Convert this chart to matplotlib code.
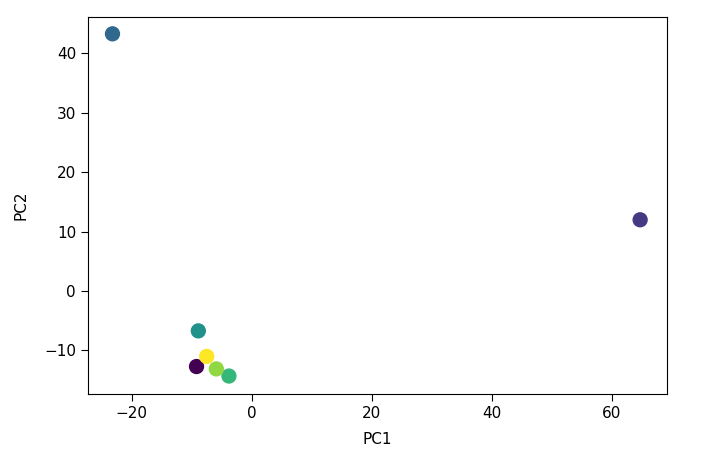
import numpy as np
import matplotlib.pyplot as plt

# PCA projection of the samples
pc1 = [-9.2, 64.7, -23.2, -8.9, -3.8, -5.9, -7.5]
pc2 = [-12.7, 12.0, 43.3, -6.7, -14.3, -13.1, -11.0]
labels = [0, 1, 2, 3, 4, 5, 6]

fig = plt.figure(figsize=(7.03, 4.65), dpi=100)
ax = fig.add_axes([0.125, 0.153, 0.824, 0.810])
ax.scatter(pc1, pc2, c=labels, cmap='viridis', s=100)
ax.set_xlim(-27.3, 69.2)
ax.set_ylim(-17.3, 46.1)
ax.set_xlabel('PC1', fontsize=11, labelpad=8)
ax.set_ylabel('PC2', fontsize=11, labelpad=11)
ax.tick_params(labelsize=11, length=5)
fig.savefig('out.png', dpi=100)
